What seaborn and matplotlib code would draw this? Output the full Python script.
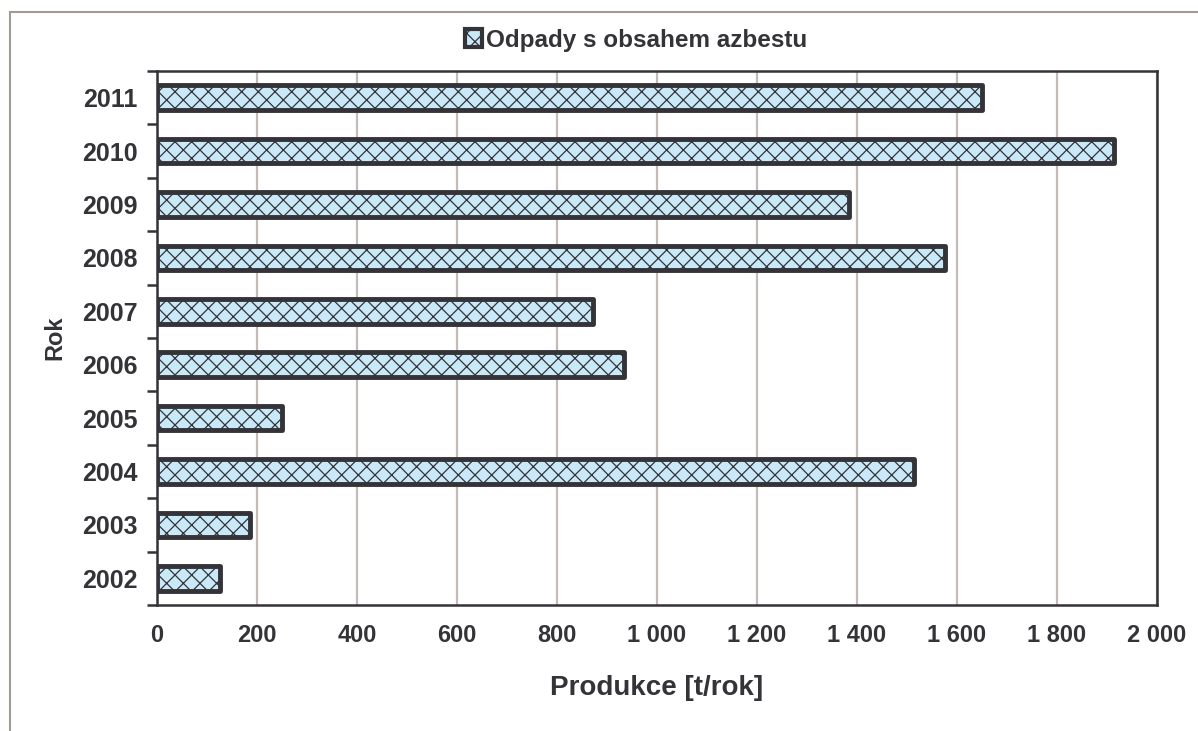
import matplotlib
matplotlib.use("Agg")
import matplotlib.pyplot as plt
from matplotlib.patches import Patch, Rectangle
from matplotlib.ticker import FuncFormatter, FixedLocator
import seaborn as sns
import pandas as pd
import numpy as np

# Asbestos-containing waste production per year
years = ["2011", "2010", "2009", "2008", "2007", "2006", "2005", "2004", "2003", "2002"]
produkce = [1650, 1914, 1384, 1576, 872, 934, 250, 1514, 186, 126]
x_ticks = [0, 200, 400, 600, 800, 1000, 1200, 1400, 1600, 1800, 2000]

series_name = "Odpady s obsahem azbestu"
x_title = "Produkce [t/rok]"
y_title = "Rok"

df = pd.DataFrame({"Rok": years, "Produkce": produkce})

sns.set_theme(style="white")
plt.rcParams["font.family"] = ["Liberation Sans", "DejaVu Sans"]
plt.rcParams["hatch.color"] = "#3a3a40"
plt.rcParams["hatch.linewidth"] = 0.9

dark = "#333338"
fill = "#c9e9f9"
grid_c = "#c6bab7"

fig = plt.figure(figsize=(11.98, 7.31), dpi=100)
ax = fig.add_axes([157 / 1198, 1 - 605 / 731, 1000 / 1198, 534 / 731])

sns.barplot(data=df, x="Produkce", y="Rok", order=years, orient="h",
            color=fill, width=0.46, edgecolor=dark, linewidth=3.5,
            saturation=1, ax=ax, zorder=3)
for bar in ax.patches:
    bar.set_hatch("xx")
    bar.set_joinstyle("round")
    bar.set_facecolor(fill)

ax.set_xlim(0, 2000)
ax.set_ylim(len(years) - 0.5, -0.5)
ax.xaxis.set_major_locator(FixedLocator(x_ticks))
ax.xaxis.set_major_formatter(FuncFormatter(lambda v, p: f"{int(v):,}".replace(",", " ")))

ax.grid(axis="x", color=grid_c, linewidth=1.6, zorder=0)
ax.grid(axis="y", visible=False)
ax.set_axisbelow(True)

for s in ax.spines.values():
    s.set_color(dark)
    s.set_linewidth(1.8)

ax.tick_params(axis="x", which="major", direction="out", length=6, width=1.8,
               color=dark, labelsize=17, labelcolor=dark, pad=8)
ax.tick_params(axis="y", which="major", length=0, labelsize=18, labelcolor=dark, pad=14)
ax.yaxis.set_minor_locator(FixedLocator(np.arange(-0.5, len(years), 1.0)))
ax.tick_params(axis="y", which="minor", direction="out", length=7, width=1.8, color=dark, left=True)

for lab in ax.get_xticklabels() + ax.get_yticklabels():
    lab.set_fontweight("bold")

ax.set_xlabel(x_title, fontsize=20, fontweight="bold", color=dark, labelpad=20)
ax.set_ylabel(y_title, fontsize=17, fontweight="bold", color=dark, labelpad=11)

handle = Patch(facecolor=fill, edgecolor=dark, hatch="xx", linewidth=3)
fig.legend(handles=[handle], labels=[series_name], loc="center",
           bbox_to_anchor=(0.531, 1 - 40 / 731), frameon=False,
           handlelength=0.7, handleheight=0.7, handletextpad=0.2,
           prop={"size": 17.5, "weight": "bold"}, labelcolor=dark)

# Chart frame
fig.patches.append(Rectangle((10 / 1198, -0.05), 1.1, 1 - 12 / 731 + 0.05,
                             transform=fig.transFigure, fill=False,
                             edgecolor="#a39a94", linewidth=1.5))

fig.savefig("out.png", dpi=100)
